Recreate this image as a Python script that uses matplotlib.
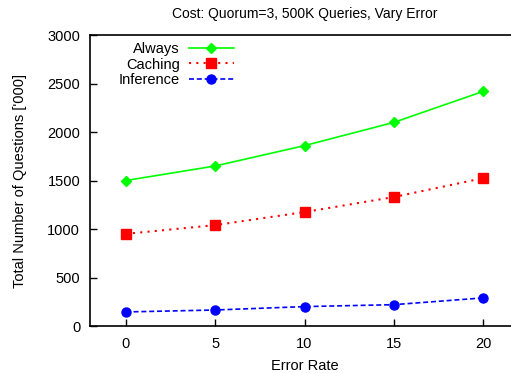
import matplotlib
matplotlib.use("Agg")
import matplotlib.pyplot as plt

plt.rcParams['font.family'] = ['Liberation Sans', 'DejaVu Sans']
plt.rcParams['font.size'] = 10.5

# data
error_rate = [0, 5, 10, 15, 20]
always = [1500, 1650, 1860, 2100, 2420]
caching = [950, 1040, 1175, 1330, 1525]
inference = [145, 165, 200, 220, 290]

fig = plt.figure(figsize=(5.11, 3.73), dpi=100)
ax = fig.add_axes([0.176, 0.126, 0.84, 0.78])

ax.plot(error_rate, always, color='#00ff00', lw=1.2, ls='-',
        marker='D', markersize=5, label='Always')
ax.plot(error_rate, caching, color='#ff0000', lw=1.5, ls=(0, (1, 2.5)),
        marker='s', markersize=6.5, label='Caching')
ax.plot(error_rate, inference, color='#0000ff', lw=1.2, ls=(0, (3, 1.7)),
        marker='o', markersize=6.5, label='Inference')

ax.set_xlim(-2, 22)
ax.set_ylim(0, 3000)
ax.set_xticks(error_rate)
ax.set_yticks([0, 500, 1000, 1500, 2000, 2500, 3000])
ax.tick_params(direction='in', length=5, width=1, pad=7)
ax.tick_params(axis='x', pad=8)
for s in ax.spines.values():
    s.set_linewidth(1.2)

ax.set_title('Cost: Quorum=3, 500K Queries, Vary Error', fontsize=10, pad=12)
ax.set_xlabel('Error Rate', labelpad=6)
ax.set_ylabel("Total Number of Questions ['000]", labelpad=15)

ax.legend(loc='upper left', bbox_to_anchor=(0.04, 1.015), frameon=False,
          markerfirst=False, handlelength=3.1, handletextpad=0.6,
          labelspacing=0.08, borderpad=0.3)

fig.savefig('out.png', dpi=100)
